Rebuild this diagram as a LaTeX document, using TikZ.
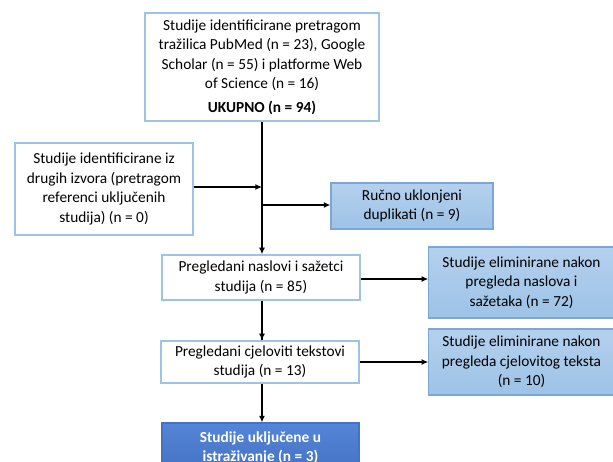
\documentclass[tikz,border=0pt]{standalone}
\usepackage{fontspec}
\setmainfont{Carlito}
\usetikzlibrary{arrows.meta}
\definecolor{wborder}{HTML}{9DC3E6}
\definecolor{lfill}{HTML}{9DC3E6}
\definecolor{lfilltop}{HTML}{B4D0EE}
\definecolor{lborder}{HTML}{7BA7D7}
\definecolor{dfill}{HTML}{4472C4}
\definecolor{dfilltop}{HTML}{5585D6}
\begin{document}
\begin{tikzpicture}[x=0.75pt,y=-0.75pt,
  every node/.style={font=\fontsize{11.5}{14.6}\selectfont, align=center, inner sep=0pt},
  wbox/.style={draw=wborder, line width=1pt, fill=white},
  lbox/.style={draw=lborder, line width=0.8pt, top color=lfilltop, bottom color=lfill},
  dbox/.style={draw=dfill, line width=0.8pt, top color=dfilltop, bottom color=dfill, text=white, font=\fontsize{11.5}{14.6}\selectfont\bfseries},
  conn/.style={line width=1.3pt, black},
  arr/.style={conn, -{Latex[length=5pt,width=4.5pt]}}]
\useasboundingbox (0,0) rectangle (613,461);
\fill[white] (0,0) rectangle (613,461);

\node[wbox, minimum width=175.5pt, minimum height=81pt] (top) at (262,67)
  {Studije identificirane pretragom\\tražilica PubMed (n = 23), Google\\Scholar (n = 55) i platforme Web\\of Science (n = 16)\\[3pt]\textbf{UKUPNO (n = 94)}};

\node[wbox, minimum width=133.5pt, minimum height=69pt] (left) at (104,189)
  {Studije identificirane iz\\drugih izvora (pretragom\\referenci uključenih\\studija) (n = 0)};

\node[lbox, minimum width=121.5pt, minimum height=34.5pt] (dup) at (412,206)
  {Ručno uklonjeni\\duplikati (n = 9)};

\node[wbox, minimum width=148.5pt, minimum height=33.75pt] (nas) at (261,277.5)
  {Pregledani naslovi i sažetci\\studija (n = 85)};

\node[lbox, minimum width=139pt, minimum height=53.25pt] (el1) at (521.5,282.5)
  {Studije eliminirane nakon\\pregleda naslova i\\sažetaka (n = 72)};

\node[wbox, minimum width=148.5pt, minimum height=31.5pt] (cje) at (260,362)
  {Pregledani cjeloviti tekstovi\\studija (n = 13)};

\node[lbox, minimum width=139pt, minimum height=49.5pt] (el2) at (521.5,362)
  {Studije eliminirane nakon\\pregleda cjelovitog teksta\\(n = 10)};

\node[dbox, minimum width=147.75pt, minimum height=37.5pt] (fin) at (260.5,448)
  {Studije uključene u\\istraživanje (n = 3)};

\coordinate (j1) at (262,187);
\coordinate (j2) at (262,205);

\draw[arr] (top.south -| j1) -- (nas.north -| j1);
\draw[arr] (left.east |- j1) -- (j1);
\draw[arr] (j2) -- (dup.west |- j2);
\draw[arr] (nas.east |- 0,279) -- (el1.west |- 0,279);
\draw[conn] (nas.south -| j1) -- (cje.north -| j1);
\draw[arr] (nas.south -| j1) -- (cje.north -| j1);
\draw[arr] (cje.east |- 0,362) -- (el2.west |- 0,362);
\draw[arr] (cje.south -| j1) -- (fin.north -| j1);
\end{tikzpicture}
\end{document}
